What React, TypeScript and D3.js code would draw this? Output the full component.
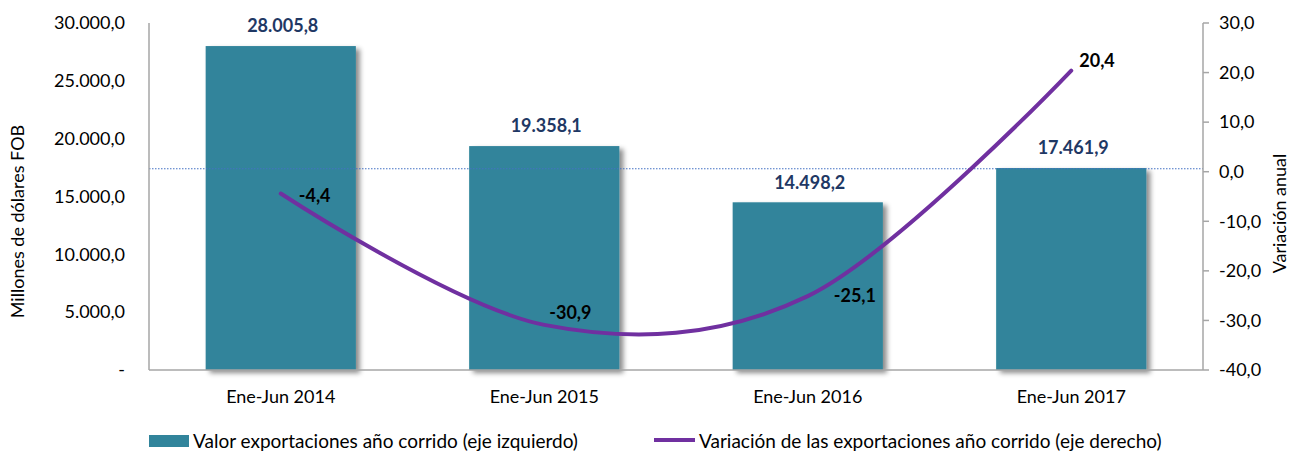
import React from "react";
import * as d3 from "d3";

const categories = ["Ene-Jun 2014", "Ene-Jun 2015", "Ene-Jun 2016", "Ene-Jun 2017"];
const exportValues = [28005.8, 19358.1, 14498.2, 17461.9];
const variation = [-4.4, -30.9, -25.1, 20.4];
const leftTicks = [0, 5000, 10000, 15000, 20000, 25000, 30000];
const rightTicks = [-40, -30, -20, -10, 0, 10, 20, 30];
const seriesNames = [
  "Valor exportaciones año corrido (eje izquierdo)",
  "Variación de las exportaciones año corrido (eje derecho)",
];
// label offsets (style) for line data labels
const lineLabelOffsets = [
  { dx: 18, dy: 2 },
  { dx: 5, dy: -12 },
  { dx: 26, dy: 0 },
  { dx: 8, dy: -10 },
];

const W = 1298;
const H = 452;
const M = { left: 149, right: 1203, top: 23, bottom: 370 };
const FONT = "Lato, 'Liberation Sans', sans-serif";
const FS = 18;
const FS_LEG = 19;

const fmtNum = (v: number, dec = 1) => {
  const s = Math.abs(v).toFixed(dec);
  const [intPart, decPart] = s.split(".");
  const withSep = intPart.replace(/\B(?=(\d{3})+(?!\d))/g, ".");
  return (v < 0 ? "-" : "") + withSep + "," + decPart;
};

export default function App() {
  const x = d3
    .scaleBand<string>()
    .domain(categories)
    .range([M.left, M.right])
    .paddingInner(0.43)
    .paddingOuter(0.215);
  const yL = d3.scaleLinear().domain([0, 30000]).range([M.bottom, M.top]);
  const yR = d3.scaleLinear().domain([-40, 30]).range([M.bottom, M.top]);
  const cx = (c: string) => (x(c) as number) + x.bandwidth() / 2;

  const line = d3
    .line<number>()
    .x((_, i) => cx(categories[i]))
    .y((d) => yR(d))
    .curve(d3.curveCardinal.tension(0));

  const axisColor = "#A6A6A6";

  return (
    <svg width={W} height={H} style={{ display: "block", position: "absolute", left: 0, top: 0 }} fontFamily={FONT}>
      <defs>
        <filter id="shadow" x="-10%" y="-10%" width="130%" height="130%">
          <feDropShadow dx="4" dy="3" stdDeviation="2.5" floodColor="#000" floodOpacity="0.45" />
        </filter>
      </defs>
      <rect width={W} height={H} fill="#fff" />

      {/* bars */}
      {categories.map((c, i) => (
        <rect
          key={c}
          x={x(c)}
          y={yL(exportValues[i])}
          width={x.bandwidth()}
          height={yL(0) - yL(exportValues[i])}
          fill="#31849B"
          filter="url(#shadow)"
        />
      ))}

      {/* zero line of right axis */}
      <line
        x1={M.left}
        x2={M.right}
        y1={yR(0.6)}
        y2={yR(0.6)}
        stroke="#4472C4"
        strokeWidth={1.2}
        strokeDasharray="1.5 1.5"
      />

      {/* axes */}
      <line x1={M.left} x2={M.left} y1={M.top} y2={M.bottom} stroke={axisColor} strokeWidth={1.5} />
      <line x1={M.left} x2={M.right} y1={M.bottom} y2={M.bottom} stroke={axisColor} strokeWidth={1.5} />
      <line x1={M.right} x2={M.right} y1={M.top} y2={M.bottom} stroke={axisColor} strokeWidth={1.5} />
      {rightTicks.map((t) => (
        <line key={t} x1={M.right} x2={M.right + 6} y1={yR(t)} y2={yR(t)} stroke={axisColor} strokeWidth={1.5} />
      ))}

      {/* left tick labels */}
      {leftTicks.map((t) => (
        <text key={t} x={125} y={yL(t)} dy="0.35em" textAnchor="end" fontSize={FS} fill="#000">
          {t === 0 ? "-" : fmtNum(t)}
        </text>
      ))}
      {/* right tick labels */}
      {rightTicks.map((t) => (
        <text key={t} x={1219} y={yR(t)} dy="0.35em" textAnchor="start" fontSize={FS} fill="#000">
          {fmtNum(t)}
        </text>
      ))}

      {/* axis titles */}
      <text
        transform={`translate(24, ${(M.top + M.bottom) / 2 + 25}) rotate(-90)`}
        textAnchor="middle"
        fontSize={FS}
        fill="#000"
      >
        Millones de dólares FOB
      </text>
      <text
        transform={`translate(1286, ${(M.top + M.bottom) / 2 + 17}) rotate(-90)`}
        textAnchor="middle"
        fontSize={FS}
        fill="#000"
      >
        Variación anual
      </text>

      {/* category labels */}
      {categories.map((c) => (
        <text key={c} x={cx(c)} y={397} dy="0.35em" textAnchor="middle" fontSize={FS} fill="#000">
          {c}
        </text>
      ))}

      {/* bar labels */}
      {categories.map((c, i) => (
        <text
          key={c}
          x={cx(c) + 2}
          y={yL(exportValues[i]) - 20}
          dy="0.35em"
          textAnchor="middle"
          fontSize={FS}
          fontWeight="bold"
          fill="#1F3864"
        >
          {fmtNum(exportValues[i])}
        </text>
      ))}

      {/* line */}
      <path d={line(variation) || ""} fill="none" stroke="#7030A0" strokeWidth={4} strokeLinecap="round" />

      {/* line labels */}
      {variation.map((v, i) => (
        <text
          key={i}
          x={cx(categories[i]) + lineLabelOffsets[i].dx}
          y={yR(v) + lineLabelOffsets[i].dy}
          dy="0.35em"
          textAnchor="start"
          fontSize={FS}
          fontWeight="bold"
          fill="#000"
        >
          {fmtNum(v)}
        </text>
      ))}

      {/* legend */}
      <rect x={149} y={435} width={40} height={12} fill="#31849B" />
      <text x={193} y={441} dy="0.35em" fontSize={FS_LEG} fill="#000">
        {seriesNames[0]}
      </text>
      <line x1={654} x2={695} y1={440} y2={440} stroke="#7030A0" strokeWidth={4} />
      <text x={699} y={441} dy="0.35em" fontSize={FS_LEG} fill="#000">
        {seriesNames[1]}
      </text>
    </svg>
  );
}
